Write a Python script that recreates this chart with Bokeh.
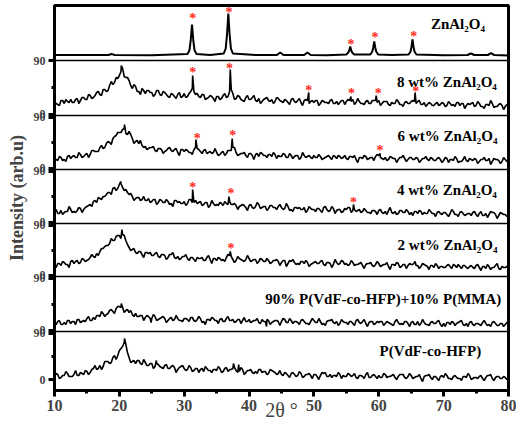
import numpy as np
from bokeh.plotting import figure
from bokeh.models import Range1d, FixedTicker, Span, Title
from bokeh.core.properties import value
from bokeh.embed import file_html
from bokeh.resources import INLINE

# ---------------- data ----------------
scan_start, scan_step = 10.0, 0.5       # main samples: 10, 10.5, ... 80
mid_start = 10.25                       # intermediate samples: 10.25, 10.75, ... 79.75

# ZnAl2O4 reference pattern (2theta, intensity)
zn_x = [10, 18.3, 18.8, 19.3, 25, 30.5, 30.8, 31.0, 31.2, 31.4, 31.6, 31.9, 34,
        36.1, 36.4, 36.6, 36.8, 37.0, 37.2, 37.5, 41, 44.3, 44.6, 44.8, 45.0, 45.3,
        48.5, 48.8, 49.0, 49.2, 49.5, 52, 55.0, 55.3, 55.45, 55.6, 55.75, 55.9, 56.2,
        58.7, 59.0, 59.15, 59.3, 59.45, 59.6, 59.9, 62, 64.6, 64.9, 65.05, 65.2, 65.35,
        65.5, 65.8, 70, 73.7, 74.0, 74.2, 74.4, 74.7, 76.8, 77.1, 77.3, 77.5, 77.8, 80]
zn_y = [5.5, 5.5, 6.5, 5.5, 5.3, 6.5, 10, 20, 36, 20, 10, 6.5, 5.5,
        7, 12, 26, 47, 26, 12, 7, 5.5, 5.5, 7, 8, 7, 5.5,
        5.5, 7, 8, 7, 5.5, 5.3, 6, 8, 10, 14, 10, 8, 6,
        6, 9, 13, 19, 13, 9, 6, 5.5, 6, 9, 14, 21, 14,
        9, 6, 5.3, 5.5, 6.5, 7, 6.5, 5.5, 5.5, 6.5, 7.5, 6.5, 5.5, 5.0]

wt8 = [13, 11, 15, 12, 14, 16, 13, 17, 15, 18,
       16, 20, 18, 23, 21, 26, 24, 30, 31, 38,
       40, 47, 38, 35, 27, 29, 24, 27, 22, 25,
       23, 21, 25, 20, 23, 19, 22, 19, 21, 18,
       22, 19, 24, 24, 22, 18, 21, 17, 20, 17,
       19, 16, 20, 18, 24, 22, 17, 19, 15, 18,
       16, 18, 15, 17, 14, 17, 15, 16, 14, 17,
       14, 16, 13, 16, 14, 15, 13, 15, 15, 14,
       13, 15, 12, 14, 13, 15, 12, 14, 13, 15,
       14, 15, 16, 13, 14, 12, 14, 12, 15, 15,
       15, 12, 14, 11, 13, 12, 14, 11, 13, 12,
       14, 14, 14, 11, 13, 11, 12, 10, 13, 11,
       12, 10, 12, 11, 13, 10, 12, 10, 11, 13,
       10, 12, 9, 11, 10, 12, 9, 11, 10, 9,
       11]
wt8_mid = [12, 10, 15, 16, 13, 13, 16, 12, 18, 16,
           21, 17, 20, 24, 20, 26, 25, 34, 33, 37,
           44, 39, 38, 30, 31, 24, 21, 25, 25, 23,
           19, 25, 21, 24, 21, 18, 21, 17, 23, 19,
           18, 22, 27, 21, 19, 21, 16, 18, 19, 14,
           19, 17, 22, 19, 26, 16, 20, 16, 14, 20,
           16, 20, 14, 12, 16, 18, 14, 12, 18, 15,
           13, 15, 11, 17, 13, 17, 10, 16, 12, 15,
           15, 10, 15, 13, 12, 16, 12, 11, 15, 11,
           16, 14, 11, 17, 12, 11, 15, 12, 15, 13,
           10, 14, 14, 10, 12, 16, 11, 9, 14, 12,
           15, 12, 15, 11, 9, 13, 10, 12, 10, 13,
           9, 14, 10, 9, 13, 12, 7, 12, 12, 9,
           14, 9, 7, 11, 15, 8, 9, 12, 6, 11]
wt8_px = [20.3, 31.3, 37.1, 49.2, 55.7, 59.6, 65.6]
wt8_py = [50, 40, 46, 23, 19, 20, 23]

wt6 = [11, 9, 12, 10, 13, 11, 14, 12, 15, 13,
       16, 15, 19, 18, 22, 21, 26, 27, 31, 34,
       37, 40, 36, 38, 31, 28, 26, 24, 23, 21,
       22, 19, 21, 20, 18, 21, 19, 20, 17, 20,
       18, 19, 17, 20, 21, 18, 19, 16, 18, 17,
       17, 15, 18, 16, 19, 22, 17, 15, 16, 14,
       16, 14, 15, 13, 16, 14, 15, 13, 15, 14,
       13, 15, 12, 14, 13, 14, 12, 14, 13, 12,
       14, 12, 13, 11, 13, 12, 14, 11, 13, 12,
       11, 13, 12, 10, 12, 11, 13, 11, 12, 13,
       14, 11, 12, 10, 12, 11, 10, 12, 11, 10,
       12, 10, 11, 9, 11, 10, 12, 9, 11, 10,
       9, 11, 10, 9, 11, 8, 10, 9, 11, 9,
       10, 8, 10, 9, 11, 8, 10, 9, 8, 10,
       9]
wt6_mid = [10, 13, 9, 8, 14, 13, 12, 17, 12, 15,
           12, 19, 18, 18, 24, 22, 28, 25, 33, 37,
           37, 41, 35, 35, 26, 29, 29, 22, 20, 22,
           23, 18, 21, 16, 19, 22, 18, 21, 14, 20,
           20, 17, 15, 22, 20, 16, 20, 17, 16, 21,
           14, 17, 14, 19, 19, 22, 14, 16, 17, 12,
           16, 10, 16, 17, 14, 12, 15, 17, 11, 13,
           16, 12, 16, 11, 14, 10, 17, 12, 14, 11,
           12, 15, 10, 12, 14, 10, 13, 14, 11, 14,
           10, 13, 14, 7, 12, 14, 10, 12, 9, 15,
           12, 10, 9, 13, 11, 7, 12, 14, 8, 12,
           10, 12, 7, 11, 13, 9, 11, 9, 12, 7,
           12, 7, 10, 13, 7, 8, 13, 8, 10, 11,
           6, 10, 12, 9, 5, 11, 10, 6, 12, 8]
wt6_px = [20.8, 31.8, 37.4, 60.2]
wt6_py = [45, 30, 31, 16]

wt4 = [12, 10, 13, 11, 12, 14, 12, 13, 15, 14,
       17, 19, 22, 21, 25, 27, 29, 31, 35, 33,
       39, 36, 34, 29, 27, 25, 26, 24, 23, 25,
       22, 24, 21, 23, 21, 22, 20, 23, 21, 20,
       22, 20, 24, 21, 20, 22, 19, 21, 18, 20,
       19, 21, 18, 20, 22, 19, 18, 17, 19, 16,
       18, 16, 17, 19, 16, 17, 15, 18, 16, 17,
       16, 15, 17, 14, 16, 15, 14, 16, 13, 15,
       14, 15, 13, 16, 14, 13, 15, 13, 14, 12,
       14, 16, 13, 12, 14, 12, 13, 11, 13, 12,
       13, 11, 12, 13, 11, 12, 10, 13, 11, 12,
       11, 12, 10, 12, 11, 10, 12, 10, 11, 10,
       11, 9, 10, 12, 9, 11, 10, 9, 10, 11,
       9, 10, 8, 10, 9, 11, 9, 8, 10, 9,
       9]
wt4_mid = [14, 10, 9, 12, 17, 11, 11, 16, 11, 16,
           18, 17, 23, 26, 24, 27, 31, 29, 36, 35,
           40, 33, 31, 30, 23, 26, 23, 27, 23, 21,
           24, 19, 24, 21, 24, 19, 17, 23, 22, 20,
           18, 24, 21, 23, 21, 18, 21, 16, 23, 18,
           18, 20, 22, 19, 19, 20, 14, 18, 18, 13,
           19, 15, 21, 15, 17, 13, 18, 16, 14, 19,
           14, 20, 13, 12, 16, 16, 14, 11, 17, 14,
           12, 15, 11, 17, 12, 17, 10, 14, 11, 15,
           16, 11, 14, 13, 11, 15, 11, 10, 13, 9,
           14, 10, 9, 16, 10, 9, 13, 11, 14, 9,
           8, 12, 13, 9, 10, 14, 10, 7, 12, 9,
           11, 7, 14, 9, 7, 12, 8, 10, 8, 12,
           7, 12, 8, 6, 12, 11, 5, 11, 9, 7]
wt4_px = [20.2, 31.3, 36.9, 56.1]
wt4_py = [42, 34, 27, 19]

wt2 = [12, 13, 11, 14, 12, 15, 13, 16, 14, 17,
       16, 19, 20, 23, 25, 28, 31, 33, 36, 40,
       41, 42, 36, 29, 27, 24, 25, 22, 24, 23,
       21, 23, 20, 22, 21, 19, 22, 19, 20, 18,
       20, 18, 19, 17, 19, 18, 16, 19, 17, 18,
       16, 18, 17, 19, 21, 17, 16, 18, 16, 17,
       18, 16, 17, 15, 17, 15, 16, 14, 16, 15,
       14, 16, 13, 15, 14, 13, 15, 13, 14, 12,
       14, 13, 15, 12, 14, 13, 12, 14, 13, 15,
       13, 12, 14, 12, 13, 11, 12, 13, 11, 12,
       13, 11, 12, 10, 12, 11, 13, 10, 12, 11,
       12, 14, 11, 10, 12, 10, 11, 9, 11, 10,
       9, 11, 10, 12, 9, 10, 11, 9, 10, 9,
       11, 9, 10, 8, 10, 9, 11, 8, 10, 9,
       8]
wt2_mid = [9, 13, 15, 12, 9, 16, 15, 13, 18, 15,
           17, 22, 19, 21, 28, 30, 31, 38, 36, 41,
           38, 41, 32, 26, 28, 23, 25, 19, 24, 24,
           21, 24, 19, 22, 17, 22, 24, 18, 17, 20,
           22, 16, 19, 15, 18, 19, 16, 21, 13, 18,
           19, 16, 15, 22, 20, 14, 20, 17, 15, 21,
           15, 17, 13, 18, 15, 18, 13, 16, 17, 11,
           16, 10, 16, 17, 12, 12, 15, 16, 10, 13,
           15, 13, 16, 11, 14, 9, 17, 12, 16, 12,
           11, 16, 11, 12, 14, 8, 13, 14, 10, 15,
           10, 12, 14, 7, 12, 14, 9, 12, 8, 13,
           12, 11, 8, 13, 11, 7, 11, 13, 8, 10,
           9, 12, 8, 11, 12, 8, 11, 8, 11, 8,
           12, 6, 10, 12, 7, 9, 13, 7, 9, 10]
wt2_px = [20.4, 37.1, 65.6]
wt2_py = [47, 25, 15]

blend = [8, 10, 7, 9, 11, 8, 10, 12, 9, 11,
         13, 11, 14, 16, 15, 18, 17, 21, 20, 23,
         25, 24, 21, 19, 17, 18, 15, 16, 14, 15,
         13, 15, 12, 14, 13, 11, 14, 12, 13, 11,
         13, 12, 14, 11, 12, 13, 10, 12, 11, 13,
         11, 12, 10, 13, 11, 12, 10, 12, 11, 10,
         12, 10, 11, 9, 12, 10, 11, 9, 11, 10,
         10, 12, 9, 11, 10, 9, 11, 10, 8, 10,
         11, 9, 10, 8, 10, 11, 9, 10, 8, 10,
         9, 10, 8, 11, 9, 10, 8, 9, 10, 8,
         9, 10, 8, 9, 7, 10, 9, 8, 10, 8,
         9, 7, 10, 8, 9, 7, 9, 8, 10, 7,
         8, 9, 7, 9, 8, 10, 7, 8, 9, 7,
         8, 7, 9, 8, 7, 9, 8, 6, 8, 7,
         8]
blend_mid = [7, 11, 7, 7, 11, 10, 7, 12, 10, 10,
             15, 11, 12, 16, 20, 15, 18, 22, 18, 25,
             24, 19, 22, 21, 15, 15, 16, 11, 16, 13,
             17, 11, 13, 15, 9, 13, 11, 16, 11, 10,
             13, 10, 14, 10, 15, 9, 7, 12, 14, 11,
             8, 13, 10, 15, 11, 9, 12, 8, 14, 10,
             9, 11, 13, 8, 10, 12, 7, 10, 11, 6,
             13, 9, 13, 8, 10, 7, 12, 8, 7, 13,
             9, 13, 7, 6, 11, 12, 8, 6, 12, 9,
             7, 10, 6, 12, 8, 12, 5, 10, 7, 10,
             10, 6, 10, 8, 6, 12, 7, 7, 10, 5,
             10, 7, 6, 12, 7, 6, 10, 8, 11, 5,
             5, 9, 10, 6, 9, 11, 6, 5, 10, 6,
             8, 6, 11, 6, 5, 10, 6, 8, 5, 9]
blend_px = [20.3, 24.9, 42.7]
blend_py = [28, 9, 5]

pvdf = [14, 16, 13, 15, 17, 14, 16, 15, 18, 16,
        19, 18, 22, 21, 25, 24, 29, 27, 33, 31,
        40, 44, 46, 33, 29, 27, 30, 26, 28, 25,
        27, 24, 26, 23, 25, 22, 24, 23, 21, 24,
        22, 21, 23, 20, 22, 21, 19, 22, 20, 21,
        20, 22, 19, 23, 21, 22, 20, 19, 21, 18,
        20, 18, 19, 21, 18, 19, 17, 20, 18, 17,
        16, 18, 15, 17, 16, 15, 17, 14, 16, 15,
        16, 14, 15, 17, 14, 16, 15, 14, 16, 15,
        14, 16, 15, 13, 15, 14, 16, 13, 15, 14,
        15, 13, 16, 14, 15, 13, 14, 16, 13, 14,
        15, 13, 14, 12, 14, 15, 13, 14, 12, 14,
        13, 15, 12, 14, 13, 12, 14, 13, 15, 12,
        13, 14, 12, 13, 15, 12, 13, 14, 12, 13,
        13]
pvdf_mid = [17, 12, 15, 19, 14, 14, 20, 15, 17, 20,
            16, 21, 25, 22, 21, 29, 29, 28, 35, 35,
            42, 48, 38, 28, 30, 30, 27, 31, 25, 27,
            22, 27, 24, 22, 26, 22, 25, 18, 23, 25,
            20, 25, 19, 22, 18, 22, 24, 20, 18, 21,
            24, 18, 22, 19, 21, 23, 18, 23, 16, 20,
            21, 17, 17, 21, 19, 16, 21, 19, 16, 20,
            15, 17, 13, 18, 14, 19, 13, 16, 17, 12,
            16, 11, 18, 18, 14, 13, 15, 18, 12, 14,
            17, 14, 17, 12, 15, 12, 18, 13, 16, 12,
            13, 17, 13, 14, 16, 11, 16, 16, 12, 17,
            12, 14, 16, 9, 15, 16, 11, 14, 10, 15,
            17, 12, 11, 15, 12, 10, 14, 17, 11, 13,
            12, 15, 10, 15, 16, 10, 14, 12, 14, 11]
pvdf_px = [20.8, 25.7, 37.6, 38.4]
pvdf_py = [52, 30, 27, 26]

# panels, bottom to top
panel_labels = ["P(VdF-co-HFP)", "90% P(VdF-co-HFP)+10% P(MMA)",
                "2 wt% ZnAl\u2082O\u2084", "4 wt% ZnAl\u2082O\u2084",
                "6 wt% ZnAl\u2082O\u2084", "8 wt% ZnAl\u2082O\u2084", "ZnAl\u2082O\u2084"]

# red asterisks marking ZnAl2O4 reflections: (panel index, 2theta, height)
star_panel = [6, 6, 6, 6, 6, 5, 5, 5, 5, 5, 5, 4, 4, 4, 3, 3, 3, 2]
star_x = [31.3, 36.9, 55.7, 59.4, 65.4, 31.3, 37.0, 49.2, 55.8, 59.9, 65.7,
          32.0, 37.5, 60.2, 31.3, 37.2, 56.1, 37.2]
star_h = [45, 51, 19, 26, 27, 46, 50, 28, 25, 25, 27, 34, 37, 22, 39, 33, 24, 31]

x_ticks = [10, 20, 30, 40, 50, 60, 70, 80]
x_minor = [15, 25, 35, 45, 55, 65, 75]

# ---------------- layout ----------------
offsets = [0, 59, 114, 167, 221, 275, 330]   # panel bottoms (vertical units)
top = 385
label_pos = [(67.95, 40), (60.7, 33), (70.6, 32), (70.5, 34), (70.6, 34), (70.5, 34), (72.2, 37)]

SERIF = "Liberation Serif"

p = figure(width=516, height=424, output_backend="svg", toolbar_location=None,
           x_range=Range1d(10, 80), y_range=Range1d(0, top),
           min_border_left=52, min_border_right=8, min_border_top=5, min_border_bottom=34)
p.grid.visible = False
p.outline_line_color = "black"
p.outline_line_width = 3
p.background_fill_color = "white"
p.border_fill_color = "white"


def scan(vals, mids, px, py):
    xs = (list(scan_start + scan_step * np.arange(len(vals)))
          + list(mid_start + scan_step * np.arange(len(mids))) + list(px))
    ys = list(vals) + list(mids) + list(py)
    order = np.argsort(xs, kind="stable")
    return np.array(xs)[order], np.array(ys, dtype=float)[order]


series = [(pvdf, pvdf_mid, pvdf_px, pvdf_py), (blend, blend_mid, blend_px, blend_py),
          (wt2, wt2_mid, wt2_px, wt2_py), (wt4, wt4_mid, wt4_px, wt4_py),
          (wt6, wt6_mid, wt6_px, wt6_py), (wt8, wt8_mid, wt8_px, wt8_py)]
for k, (v, m, a, b) in enumerate(series):
    xs, ys = scan(v, m, a, b)
    p.line(xs, ys + offsets[k], line_color="black", line_width=1.6)
p.line(zn_x, np.array(zn_y) + offsets[6], line_color="black", line_width=2)

# separators
for s in offsets[1:]:
    p.add_layout(Span(location=s, dimension="width", line_color="black", line_width=1.6))

# panel labels
for k, lab in enumerate(panel_labels):
    lx, ly = label_pos[k]
    p.text([lx], [offsets[k] + ly], text=[lab], text_font=value(SERIF), text_font_style="bold",
           text_font_size="15px", text_align="center", text_baseline="middle", text_color="black")

# stars
sy = [offsets[k] + h - 3 for k, h in zip(star_panel, star_h)]
p.text(star_x, sy, text=["*"] * len(star_x), text_font=value(SERIF), text_font_style="bold",
       text_font_size="14px", text_align="center", text_baseline="middle", text_color="#ff2a1a")

# axes
xa = p.xaxis[0]
xa.ticker = FixedTicker(ticks=x_ticks, minor_ticks=x_minor)
xa.major_label_text_font = SERIF
xa.major_label_text_font_style = "bold"
xa.major_label_text_font_size = "16px"
xa.major_label_standoff = 3
xa.axis_label = "2\u03b8 \u00b0"
xa.axis_label_text_font = SERIF
xa.axis_label_text_font_style = "normal"
xa.axis_label_text_font_size = "20px"
xa.axis_label_standoff = -15

ya = p.yaxis[0]
yt, ymin, yover = [], [], {}
for k in range(6):
    z = offsets[k] + (11 if k == 0 else 1.5)
    n = (offsets[k + 1] - 1.5) if k < 5 else offsets[6]
    yt += [z, n]
    yover[z] = "0"
    yover[n] = "90"
    ymin.append((z + n) / 2)
ya.ticker = FixedTicker(ticks=yt, minor_ticks=ymin)
ya.major_label_overrides = {(int(t) if float(t).is_integer() else float(t)): s for t, s in yover.items()}
ya.major_label_text_font = SERIF
ya.major_label_text_font_style = "bold"
ya.major_label_text_font_size = "12px"
ya.major_label_standoff = 3

for ax in (xa, ya):
    ax.axis_line_width = 3
    ax.axis_line_color = "black"
    ax.major_tick_line_width = 3
    ax.major_tick_in = 0
    ax.major_tick_out = 6
    ax.minor_tick_line_width = 3
    ax.minor_tick_in = 0
    ax.minor_tick_out = 3

p.add_layout(Title(text="Intensity (arb.u)", align="center", offset=-21, standoff=8,
                   text_font=SERIF, text_font_style="bold", text_font_size="18px"), "left")

open("out.html", "w").write(file_html(p, INLINE))
